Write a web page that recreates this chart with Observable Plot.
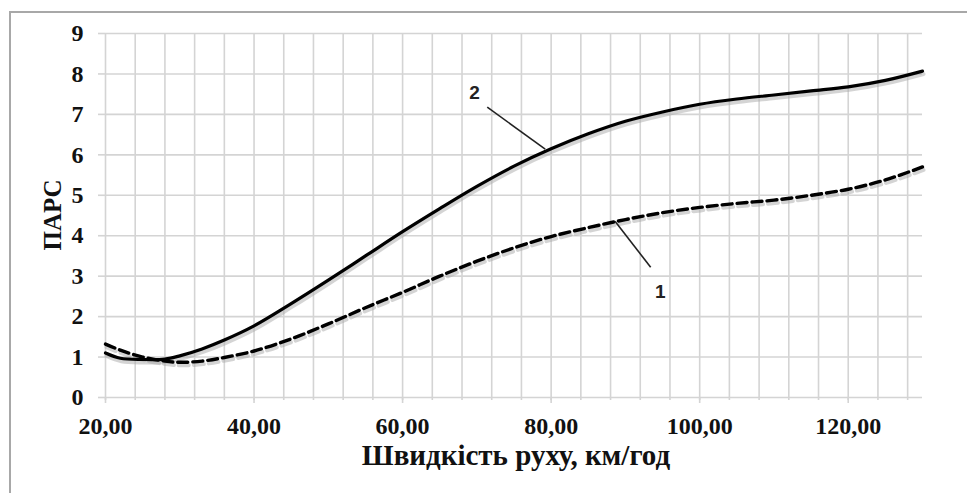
<!DOCTYPE html>
<html>
<head>
<meta charset="utf-8">
<script src="https://cdn.jsdelivr.net/npm/d3@7"></script>
<script src="https://cdn.jsdelivr.net/npm/@observablehq/plot@0.6"></script>
<style>
  html, body { margin: 0; padding: 0; background: #fff; overflow: hidden; }
  #frame { position: absolute; left: 9px; top: 11px; width: 1000px; height: 1000px; border: 2px solid #a8a8a8; }
  #chart { position: absolute; left: 0; top: 0; }
</style>
</head>
<body>
<div id="frame"></div>
<div id="chart"></div>
<script>
// Speed, km/h
const speeds = [20,22,25,28,30,33,36,40,45,50,55,60,65,70,75,80,85,90,95,100,105,110,115,120,125,130];
// Curve 1 (dashed)
const pars1 = [1.32,1.17,1.00,0.90,0.87,0.90,0.99,1.15,1.45,1.82,2.22,2.60,3.00,3.37,3.70,3.98,4.20,4.40,4.57,4.70,4.80,4.88,5.00,5.15,5.38,5.70];
// Curve 2 (solid)
const pars2 = [1.10,0.97,0.94,0.95,1.03,1.20,1.42,1.77,2.32,2.90,3.50,4.10,4.67,5.22,5.72,6.15,6.52,6.83,7.06,7.25,7.38,7.48,7.58,7.68,7.84,8.07];

const xTicks = [20,40,60,80,100,120];
const xTickLabels = ["20,00","40,00","60,00","80,00","100,00","120,00"];
const xGrid = d3.range(20,130,4);
const yTicks = [0,1,2,3,4,5,6,7,8,9];
const xTitle = "Швидкість руху, км/год";
const yTitle = "ПАРС";

// Curve labels with leader lines (data coordinates)
const annLabels = ["2","1"];
const annX = [69.7, 94.7];
const annY = [7.52, 2.6];
const leadX1 = [71.4, 88.6];
const leadY1 = [7.18, 4.36];
const leadX2 = [79.2, 93.4];
const leadY2 = [6.14, 3.22];

const d1 = speeds.map((s,i) => ({speed: s, pars: pars1[i]}));
const d2 = speeds.map((s,i) => ({speed: s, pars: pars2[i]}));
const ann = annLabels.map((t,i) => ({t, x: annX[i], y: annY[i], x1: leadX1[i], y1: leadY1[i], x2: leadX2[i], y2: leadY2[i]}));

const serif = "'Liberation Serif', 'Times New Roman', serif";
const gridColor = "#d4d4d4";

const chart = Plot.plot({
  width: 967,
  height: 493,
  marginLeft: 105,
  marginRight: 45,
  marginTop: 33,
  marginBottom: 96,
  style: {background: "transparent", fontFamily: serif, color: "#111"},
  x: {domain: [20,130]},
  y: {domain: [0,9]},
  marks: [
    Plot.gridX(xGrid, {stroke: gridColor, strokeOpacity: 1, strokeWidth: 1.6}),
    Plot.gridY(yTicks, {stroke: gridColor, strokeOpacity: 1, strokeWidth: 1.6}),
    Plot.axisX(xGrid, {tickSize: 3, stroke: gridColor, strokeWidth: 1.6, tickFormat: () => "", label: null}),
    Plot.axisX(xTicks, {tickSize: 6, stroke: gridColor, strokeWidth: 1.6, tickPadding: 13,
      tickFormat: (d) => xTickLabels[xTicks.indexOf(d)], fontSize: 24, fontWeight: "bold", fill: "#111", label: null}),
    Plot.axisY(yTicks, {tickSize: 7, stroke: gridColor, strokeWidth: 1.6, tickPadding: 15,
      fontSize: 24, fontWeight: "bold", fill: "#111", label: null}),
    // shadows
    Plot.line(d2, {x: "speed", y: "pars", curve: "catmull-rom", stroke: "#aaa", strokeOpacity: 0.5, strokeWidth: 4, dx: 1, dy: 3}),
    Plot.line(d1, {x: "speed", y: "pars", curve: "catmull-rom", stroke: "#aaa", strokeOpacity: 0.5, strokeWidth: 4, dx: 1, dy: 3, strokeDasharray: "10,5"}),
    // curves
    Plot.line(d1, {x: "speed", y: "pars", curve: "catmull-rom", stroke: "#000", strokeWidth: 3.4, strokeDasharray: "10,5"}),
    Plot.line(d2, {x: "speed", y: "pars", curve: "catmull-rom", stroke: "#000", strokeWidth: 3.2}),
    // leader lines and labels
    Plot.link(ann, {x1: "x1", y1: "y1", x2: "x2", y2: "y2", stroke: "#222", strokeWidth: 1.6}),
    Plot.text(ann, {x: "x", y: "y", text: "t", fontSize: 19, fontWeight: "bold", fill: "#222",
      fontFamily: "'Liberation Sans', Arial, sans-serif"}),
    // titles
    Plot.text([yTitle], {frameAnchor: "left", rotate: -90, dx: -53, dy: 35, fontSize: 25, fontWeight: "bold", fill: "#111"}),
    Plot.text([xTitle], {frameAnchor: "bottom", dx: 2, dy: 67, fontSize: 29, fontWeight: "bold", fill: "#111"})
  ]
});
document.getElementById("chart").appendChild(chart);
</script>
</body>
</html>
